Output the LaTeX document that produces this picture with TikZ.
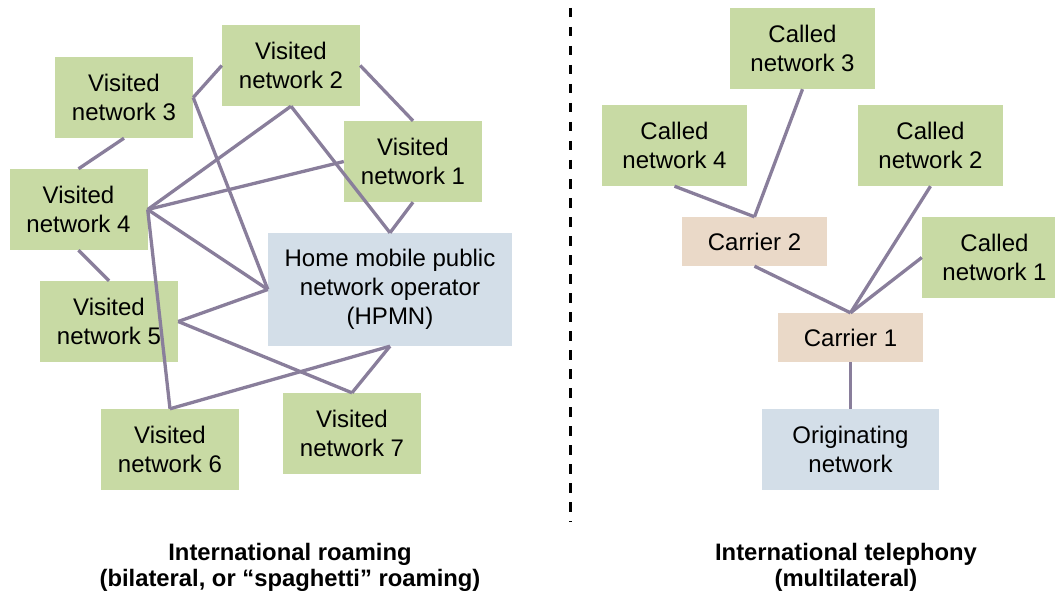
\documentclass[tikz,border=0pt]{standalone}
\usepackage{fontspec}
\setmainfont{Liberation Sans}
\definecolor{vgreen}{RGB}{200,218,164}
\definecolor{hblue}{RGB}{211,222,232}
\definecolor{cbeige}{RGB}{234,217,200}
\definecolor{linec}{RGB}{137,126,155}
\begin{document}
\begin{tikzpicture}[x=1pt,y=-1pt,
  box/.style={inner sep=0pt, align=center, font=\fontsize{24}{29}\selectfont, text=black},
  vnet/.style={box, fill=vgreen, minimum width=138pt, minimum height=81pt},
  cnet/.style={box, fill=vgreen, minimum width=145pt, minimum height=81pt},
  carrier/.style={box, fill=cbeige, minimum width=145pt, minimum height=49pt},
  home/.style={box, fill=hblue},
  link/.style={draw=linec, line width=3.3pt},
  heading/.style={align=center, inner sep=0pt, font=\bfseries\fontsize{23.8}{25.5}\selectfont},
  divider/.style={line width=3pt, dash pattern=on 9.5pt off 9.5pt}]
\path[use as bounding box] (0,0) rectangle (1055,591);
\clip (0,0) rectangle (1055,591);

% left: roaming
\node[vnet] (vn3) at (124,97.5) {Visited\\network 3};
\node[vnet] (vn2) at (291,65.5) {Visited\\network 2};
\node[vnet] (vn1) at (413,161.5) {Visited\\network 1};
\node[vnet] (vn4) at (78.5,209.5) {Visited\\network 4};
\node[home, minimum width=244pt, minimum height=113pt] (hpmn) at (390,289.5) {Home mobile public\\network operator\\(HPMN)};
\node[vnet] (vn5) at (109,321.5) {Visited\\network 5};
\node[vnet] (vn6) at (170,449.5) {Visited\\network 6};
\node[vnet] (vn7) at (352,433.5) {Visited\\network 7};

\draw[link] (vn3.east) -- (vn2.west);
\draw[link] (vn3.south) -- (vn4.north);
\draw[link] (vn2.east) -- (vn1.north);
\draw[link] (vn3.east) -- (hpmn.west);
\draw[link] (vn2.south) -- (vn4.east);
\draw[link] (vn2.south) -- (hpmn.north);
\draw[link] (vn1.south) -- (hpmn.north);
\draw[link] (vn1.west) -- (vn4.east);
\draw[link] (vn4.east) -- (hpmn.west);
\draw[link] (vn4.east) -- (vn6.north);
\draw[link] (vn4.south) -- (vn5.north);
\draw[link] (vn5.east) -- (hpmn.west);
\draw[link] (vn5.east) -- (vn7.north);
\draw[link] (hpmn.south) -- (vn6.north);
\draw[link] (hpmn.south) -- (vn7.north);

% divider
\coordinate (divtop) at (570,8);
\coordinate (divbot) at (570,522);
\draw[divider] (divtop) -- (divbot);

% right: telephony
\node[cnet] (cn3) at (802.5,48.5) {Called\\network 3};
\node[cnet] (cn4) at (674.5,145.5) {Called\\network 4};
\node[cnet] (cn2) at (930.5,145.5) {Called\\network 2};
\node[cnet] (cn1) at (994.5,257.5) {Called\\network 1};
\node[carrier] (car2) at (754.5,241.5) {Carrier 2};
\node[carrier] (car1) at (850.5,337.5) {Carrier 1};
\node[home, minimum width=177pt, minimum height=81pt] (orig) at (850.5,449.5) {Originating\\network};

\draw[link] (cn4.south) -- (car2.north);
\draw[link] (cn3.south) -- (car2.north);
\draw[link] (car2.south) -- (car1.north);
\draw[link] (cn2.south) -- (car1.north);
\draw[link] (cn1.west) -- (car1.north);
\draw[link] (car1.south) -- (orig.north);

% headings
\node[heading] (h1) at (290,567.5) {International roaming\\(bilateral, or \textquotedblleft spaghetti\textquotedblright\ roaming)};
\node[heading] (h2) at (846,567.5) {International telephony\\(multilateral)};
\end{tikzpicture}
\end{document}
